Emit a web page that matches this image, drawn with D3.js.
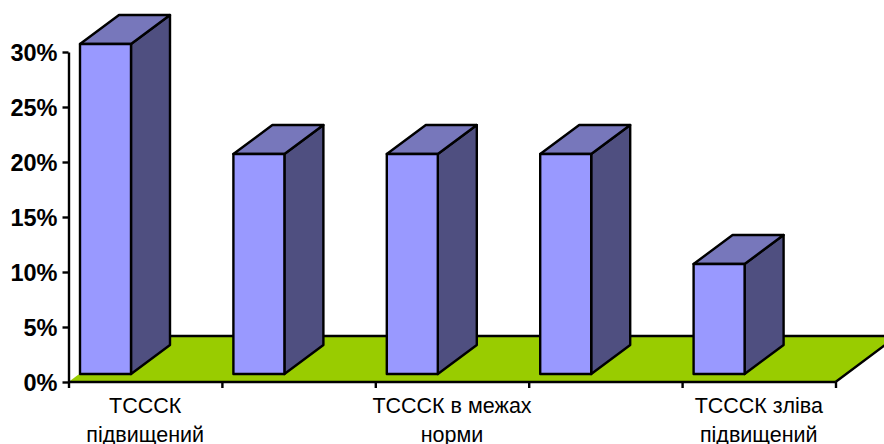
<!DOCTYPE html>
<html>
<head>
<meta charset="utf-8">
<script src="https://cdn.jsdelivr.net/npm/d3@7/dist/d3.min.js"></script>
<style>
html,body{margin:0;padding:0;background:#fff;overflow:hidden}
svg{display:block}
text{font-family:"Liberation Sans",Arial,sans-serif;fill:#000}
</style>
</head>
<body>
<svg id="chart" width="884" height="444"></svg>
<script>
const categories = ["a", "b", "c", "d", "e"];
const categoryLines = [["ТСССК", "підвищений"], [], ["ТСССК в межах", "норми"], [], ["ТСССК зліва", "підвищений"]];
const values = [30, 20, 20, 20, 10];
const yTicks = [0, 5, 10, 15, 20, 25, 30];

const colors = {front: "#9999ff", top: "#7777bb", side: "#4f4f80", floor: "#99cc00"};
const width = 884, height = 444;
const lineWidth = 2.4;
const svg = d3.select("#chart");
const clipped = svg.append("g");

const x = d3.scaleBand().domain(categories).range([68.5, 835.5]);
const y = d3.scaleLinear().domain([0, 30]).range([382, 52]);

// oblique projection: how far a point at the back of the floor shifts
const floorDepth = {dx: 61.5, dy: -46};
const barDepth = {dx: 39, dy: -29};
const barInset = {dx: 11.5, dy: -8};
const barWidth = 51;
const path = pts => "M" + pts.map(p => p.join(",")).join("L") + "Z";

// floor
const x0 = x.range()[0], x1 = x.range()[1], y0 = y(0);
clipped.append("path")
  .attr("d", path([[x0, y0], [x1, y0], [x1 + floorDepth.dx, y0 + floorDepth.dy], [x0 + floorDepth.dx, y0 + floorDepth.dy]]))
  .attr("fill", colors.floor).attr("stroke", "none");
clipped.append("path")
  .attr("d", `M${x0 + floorDepth.dx},${y0 + floorDepth.dy}L${x1 + floorDepth.dx},${y0 + floorDepth.dy}L${x1},${y0}`)
  .attr("fill", "none").attr("stroke", "#000").attr("stroke-width", lineWidth);

// bars
const bars = clipped.selectAll("g.bar").data(categories.map((c, i) => ({c, v: values[i]})))
  .join("g").attr("class", "bar")
  .attr("stroke", "#000").attr("stroke-width", lineWidth).attr("stroke-linejoin", "round");
const left = d => x(d.c) + barInset.dx;
const bottom = () => y(0) + barInset.dy;
const topY = d => y(d.v) + barInset.dy;
bars.append("path").attr("fill", colors.side).attr("d", d => {
  const r = left(d) + barWidth;
  return path([[r, topY(d)], [r + barDepth.dx, topY(d) + barDepth.dy], [r + barDepth.dx, bottom() + barDepth.dy], [r, bottom()]]);
});
bars.append("path").attr("fill", colors.top).attr("d", d => {
  const l = left(d), r = l + barWidth, t = topY(d);
  return path([[l, t], [r, t], [r + barDepth.dx, t + barDepth.dy], [l + barDepth.dx, t + barDepth.dy]]);
});
bars.append("path").attr("fill", colors.front).attr("d", d => {
  const l = left(d), r = l + barWidth;
  return path([[l, topY(d)], [r, topY(d)], [r, bottom()], [l, bottom()]]);
});

// value axis
const yAxis = svg.append("g").attr("transform", `translate(${x0},0)`)
  .call(d3.axisLeft(y).tickValues(yTicks).tickFormat(d => d + "%").tickSize(6).tickSizeOuter(0));
yAxis.selectAll("path,line").attr("stroke", "#000").attr("stroke-width", lineWidth);
yAxis.selectAll("text")
  .attr("font-size", 23.5).attr("font-weight", "bold")
  .attr("font-family", '"Liberation Sans",Arial,sans-serif')
  .attr("x", -11).attr("dy", "0.36em");

// category axis: ticks fall on the band edges, labels on the band centres
const edges = categories.map(c => x(c)).concat(x1);
const xAxis = svg.append("g").attr("transform", `translate(0,${y0})`)
  .call(d3.axisBottom(d3.scaleIdentity().domain([0, width])).tickValues(edges).tickFormat("").tickSize(6).tickSizeOuter(0));
xAxis.selectAll("line").attr("stroke", "#000").attr("stroke-width", lineWidth);
xAxis.select("path").attr("d", `M${x0},0H${x1}`).attr("stroke", "#000").attr("stroke-width", lineWidth);

const labels = svg.selectAll("text.cat").data(categories.map((c, i) => ({c, lines: categoryLines[i]})))
  .join("text").attr("class", "cat")
  .attr("text-anchor", "middle").attr("font-size", 21.5);
labels.selectAll("tspan").data(d => d.lines.map((t, i) => ({t, i, cx: x(d.c) + x.bandwidth() / 2})))
  .join("tspan")
  .attr("x", d => d.cx).attr("y", d => 413 + d.i * 29)
  .text(d => d.t);
</script>
</body>
</html>
